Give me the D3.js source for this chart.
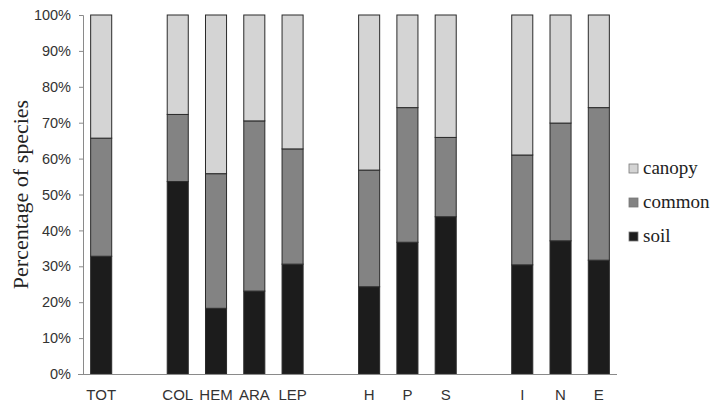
<!DOCTYPE html>
<html>
<head>
<meta charset="utf-8">
<script src="https://cdn.jsdelivr.net/npm/d3@7"></script>
<style>
  html, body { margin: 0; padding: 0; background: #fff; }
  svg { display: block; }
</style>
</head>
<body>
<svg id="chart" width="712" height="405"></svg>
<script>
// Slots (blank strings mark the gaps between groups)
const categories = ["TOT", "", "COL", "HEM", "ARA", "LEP", " ", "H", "P", "S", "  ", "I", "N", "E"];
const labels = ["TOT", "COL", "HEM", "ARA", "LEP", "H", "P", "S", "I", "N", "E"];
const soil   = [32.8, 53.6, 18.3, 23.1, 30.6, 24.3, 36.7, 43.8, 30.4, 37.1, 31.7];
const common = [32.9, 18.7, 37.5, 47.4, 32.1, 32.5, 37.5, 22.1, 30.6, 32.8, 42.5];
const canopy = soil.map((s, i) => 100 - s - common[i]);
const seriesNames = ["soil", "common", "canopy"];
const seriesColors = ["#1c1c1c", "#838383", "#d4d4d4"];
const yTicks = [0, 10, 20, 30, 40, 50, 60, 70, 80, 90, 100];

const SERIF = "Liberation Serif";
const SANS = "Liberation Sans";

const svg = d3.select("#chart");
const margin = { top: 15, right: 95, bottom: 31, left: 83 };
const W = 712, H = 405;

const x = d3.scaleBand()
  .domain(categories)
  .range([margin.left, W - margin.right])
  .paddingInner(0.45)
  .paddingOuter(0.2);

const y = d3.scaleLinear()
  .domain([0, 100])
  .range([H - margin.bottom, margin.top]);

const rows = labels.map((c, i) => ({ cat: c, soil: soil[i], common: common[i], canopy: canopy[i] }));
const stack = d3.stack().keys(seriesNames)(rows);

const g = svg.append("g");
stack.forEach((layer, li) => {
  g.selectAll(null)
    .data(layer)
    .join("rect")
    .attr("x", d => x(d.data.cat))
    .attr("width", x.bandwidth())
    .attr("y", d => y(d[1]))
    .attr("height", d => y(d[0]) - y(d[1]))
    .attr("fill", seriesColors[li])
    .attr("stroke", "#2a2a2a")
    .attr("stroke-width", 1);
});

// Y axis
const yAxis = svg.append("g")
  .attr("transform", `translate(${margin.left},0)`)
  .call(d3.axisLeft(y).tickValues(yTicks).tickFormat(d => d + "%").tickSize(4).tickPadding(8))
  .attr("font-family", SANS)
  .attr("font-size", 14.5);
yAxis.select(".domain").attr("stroke", "#8a8a8a");
yAxis.selectAll(".tick line").attr("stroke", "#8a8a8a");
yAxis.selectAll("text").attr("fill", "#333");

// X axis
const xAxis = svg.append("g")
  .attr("transform", `translate(0,${H - margin.bottom})`)
  .call(d3.axisBottom(x).tickValues(labels).tickSize(0).tickPadding(15))
  .attr("font-family", SANS)
  .attr("font-size", 15);
xAxis.select(".domain").attr("stroke", "#8a8a8a").attr("d", `M${margin.left - 5},0.5H${W - margin.right}`);
xAxis.selectAll("text").attr("fill", "#333");

// Y label
svg.append("text")
  .attr("transform", `translate(28,${(margin.top + H - margin.bottom) / 2}) rotate(-90)`)
  .attr("text-anchor", "middle")
  .attr("font-family", SERIF)
  .attr("font-size", 22)
  .attr("fill", "#222")
  .text("Percentage of species");

// Legend (canopy on top)
const legendOrder = [2, 1, 0];
const lg = svg.append("g").attr("transform", "translate(629,164)");
legendOrder.forEach((si, k) => {
  const row = lg.append("g").attr("transform", `translate(0,${k * 34})`);
  row.append("rect")
    .attr("width", 9).attr("height", 9)
    .attr("fill", seriesColors[si])
    .attr("stroke", "#777").attr("stroke-width", 0.8);
  row.append("text")
    .attr("x", 14).attr("y", 10)
    .attr("font-family", SERIF)
    .attr("font-size", 19)
    .attr("fill", "#222")
    .text(seriesNames[si]);
});
</script>
</body>
</html>
